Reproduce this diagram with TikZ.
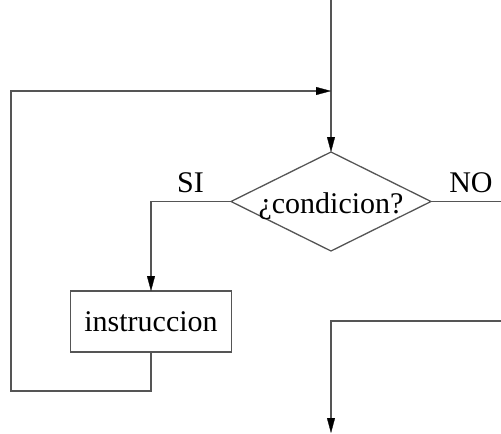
\documentclass[tikz,border=0pt]{standalone}
\usepackage{fontspec}
\setmainfont{Liberation Serif}
\usetikzlibrary{arrows.meta,shapes.geometric}
\definecolor{linegray}{RGB}{85,85,85}
\begin{document}
\begin{tikzpicture}[x=1pt,y=-1pt,
  line/.style={draw=linegray,line width=1.3pt},
  arr/.style={line,-{Triangle[length=15pt,width=8pt,color=black,fill=black,line width=0.3pt]}},
  txt/.style={font=\fontsize{30}{36}\selectfont,inner sep=0pt,outer sep=0pt},
  decision/.style={diamond,line,inner sep=0pt,outer sep=0pt,minimum width=200pt,minimum height=99pt},
  procbox/.style={rectangle,line,inner sep=0pt,outer sep=0pt,minimum width=161pt,minimum height=61pt}]
\useasboundingbox (0,0) rectangle (501,434);
\node[decision] (d) at (331,201.5) {};
\node[txt,anchor=base] (dt) at (331,213) {¿condicion?};
\node[procbox,txt] (b) at (151,321.5) {instruccion};
\node[txt,anchor=base] (si) at (190.5,192) {SI};
\node[txt,anchor=base] (no) at (471,192) {NO};
\coordinate (top) at (331,0);
\coordinate (j) at (331,91);
\coordinate (bl) at (11,391);
\coordinate (re) at (501,201.5);
\coordinate (r2) at (501,321);
\coordinate (bot) at (331,433);
\draw[line] (top) -- (j);
\draw[arr] (j) -- (d.north);
\draw[arr] (b.south) |- (bl) |- (j);
\draw[arr] (d.west) -| (b.north);
\draw[line] (d.east) -- (re);
\draw[arr] (r2) -| (bot);
\end{tikzpicture}
\end{document}
